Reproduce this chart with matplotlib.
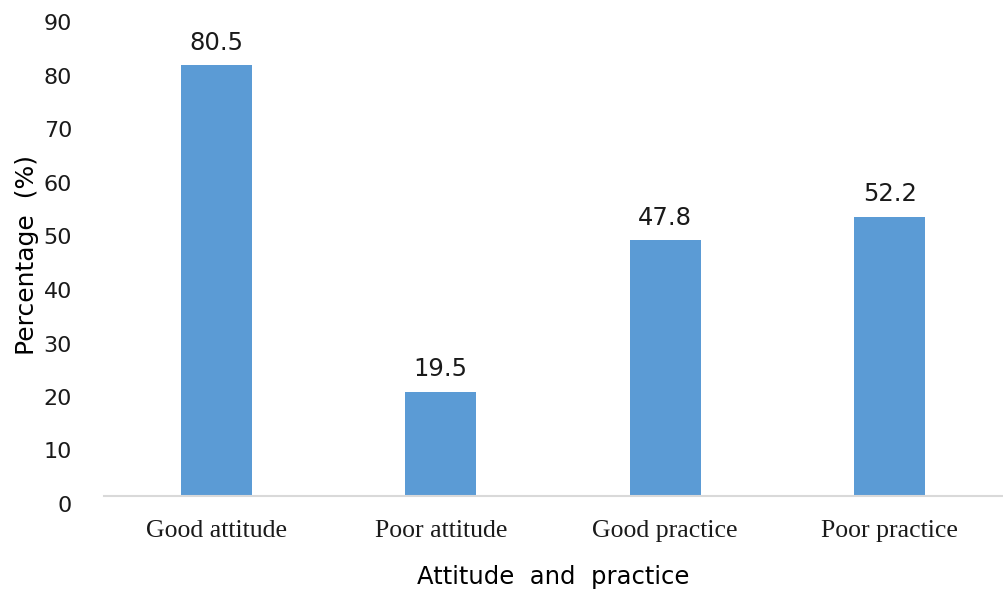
import matplotlib
matplotlib.use('Agg')
import matplotlib.pyplot as plt

categories = ['Good attitude', 'Poor attitude', 'Good practice', 'Poor practice']
values = [80.5, 19.5, 47.8, 52.2]
yticks = [0, 10, 20, 30, 40, 50, 60, 70, 80, 90]

fig = plt.figure(figsize=(10.04, 6.01), dpi=100)
ax = fig.add_axes([104/1004, 105/601, 898/1004, 481.5/601])

bars = ax.bar(range(len(categories)), values, width=0.317, color='#5b9bd5')
for b, v in zip(bars, values):
    ax.text(b.get_x() + b.get_width()/2, v + 2.0, '%.1f' % v, ha='center', va='bottom',
            fontsize=17.5, family='DejaVu Sans', color='#1a1a1a')

ax.set_xlim(-0.5, 3.5)
ax.set_ylim(0, 90)
ax.set_yticks(yticks)
ax.set_xticks(range(len(categories)))
ax.set_xticklabels(categories, family='Liberation Serif', fontsize=18.5)
for s in ['top', 'right', 'left']:
    ax.spines[s].set_visible(False)
ax.spines['bottom'].set_color('#d9d9d9')
ax.spines['bottom'].set_linewidth(1.5)
ax.tick_params(axis='both', length=0, colors='#1a1a1a')
ax.tick_params(axis='y', labelsize=16, pad=23)
ax.tick_params(axis='x', pad=17)
for t in ax.get_yticklabels():
    t.set_verticalalignment('top')

ax.set_xlabel('Attitude  and  practice', fontsize=17.5, family='DejaVu Sans', labelpad=17)
ax.set_ylabel('Percentage  (%)', fontsize=18, family='DejaVu Sans', labelpad=3)

fig.savefig('out.png', dpi=100)
